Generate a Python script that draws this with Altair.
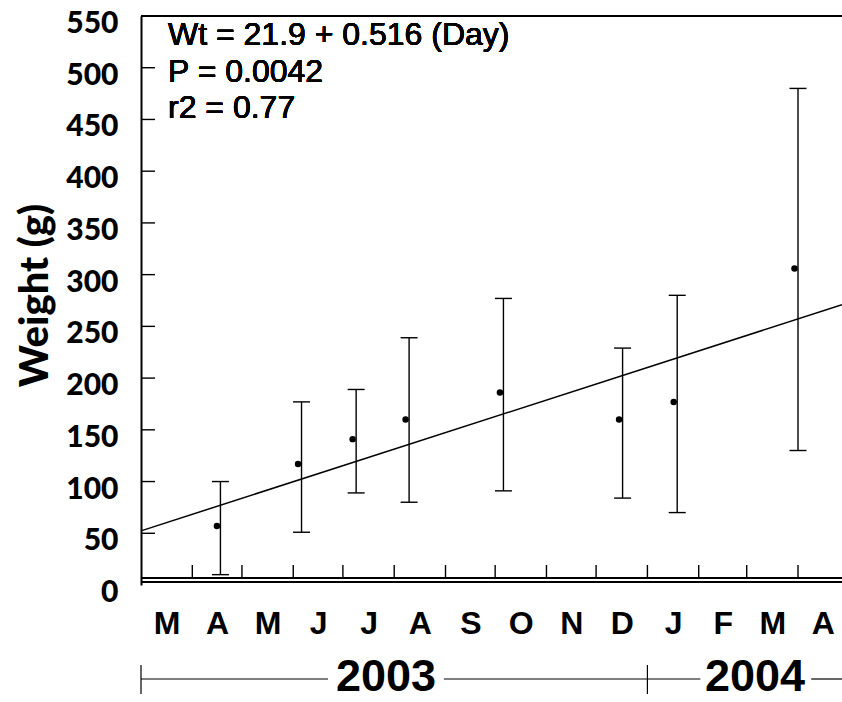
import altair as alt
import pandas as pd

# ---------------- data ----------------
sample_dates = ["2003-04-18", "2003-06-06", "2003-07-09", "2003-08-10",
                "2003-10-06", "2003-12-17", "2004-01-19", "2004-04-01"]
mean_wt = [57, 117, 141, 160, 186, 160, 177, 306]
upper_wt = [100, 177, 189, 239, 277, 229, 280, 480]
lower_wt = [10, 51, 89, 80, 91, 84, 70, 130]

y_tick_values = [0, 50, 100, 150, 200, 250, 300, 350, 400, 450, 500, 550]
inner_y_ticks = [50, 100, 150, 200, 250, 300, 350, 400, 450, 500, 550]

label_months = ["2003-03-01", "2003-04-01", "2003-05-01", "2003-06-01", "2003-07-01",
                "2003-08-01", "2003-09-01", "2003-10-01", "2003-11-01", "2003-12-01",
                "2004-01-01", "2004-02-01", "2004-03-01", "2004-04-01", "2004-05-01"]
month_tick_dates = label_months[1:-1]

year_labels = ["2003", "2004"]
year_label_dates = ["2003-07-27", "2004-03-06"]
bracket_tick_dates = ["2003-03-01", "2004-01-01"]
bracket_seg_start = ["2003-03-01", "2003-08-31", "2004-01-01", "2004-04-09"]
bracket_seg_end = ["2003-06-22", "2004-01-01", "2004-02-02", "2004-04-27T14:00:00Z"]

x_start = "2003-03-01"
x_end = "2004-04-27T14:00:00Z"

fit_intercept = 21.9
fit_slope = 0.516
day_zero = "2003-01-01"

annotation_lines = ["Wt = 21.9 + 0.516 (Day)", "P = 0.0042", "r2 = 0.77"]


def ms(s):
    t = pd.Timestamp(s)
    if t.tzinfo is not None:
        t = t.tz_convert("UTC").tz_localize(None)
    return int(t.value // 10**6)


# ---------------- tables ----------------
pts = pd.DataFrame({"date": [ms(d) for d in sample_dates], "mean": mean_wt,
                    "upper": upper_wt, "lower": lower_wt})

mid_ms = [(ms(a) + ms(b)) // 2 for a, b in zip(label_months[:-1], label_months[1:])]

fit_x = [x_start, x_end]
fit_days = [(ms(d) - ms(day_zero)) / 86400000.0 for d in fit_x]
fit = pd.DataFrame({"date": [ms(d) for d in fit_x],
                    "wt": [fit_intercept + fit_slope * d for d in fit_days]})

mticks = pd.DataFrame({"date": [ms(d) for d in month_tick_dates]})
yticks = pd.DataFrame({"v": inner_y_ticks})
ylab = pd.DataFrame({"date": [ms(d) for d in year_label_dates], "label": year_labels})
btick = pd.DataFrame({"date": [ms(d) for d in bracket_tick_dates]})
bseg = pd.DataFrame({"s": [ms(d) for d in bracket_seg_start],
                     "e": [ms(d) for d in bracket_seg_end]})

W, H = 701, 569

x_scale = alt.Scale(type="utc", domain=[ms(x_start), ms(x_end)], nice=False)
y_scale = alt.Scale(domain=[0, 550], nice=False, zero=False)

x_axis = alt.Axis(values=mid_ms,
                  labelExpr="substring(utcFormat(datum.value, '%B'), 0, 1)",
                  ticks=False, tickSize=0, domain=False, grid=False,
                  labelFont="Liberation Sans", labelFontWeight="bold", labelFontSize=32,
                  labelColor="black", labelBaseline="alphabetic", labelPadding=48,
                  labelAngle=0, labelOverlap=False, labelFlush=False, labelBound=False,
                  title=None)

y_axis = alt.Axis(values=y_tick_values, ticks=False, tickSize=0, grid=False,
                  domain=True, domainColor="black", domainWidth=2,
                  labelFont="Lato", labelFontWeight=900, labelFontSize=30,
                  labelColor="black", labelBaseline="alphabetic", labelOffset=16.5,
                  labelPadding=23, labelOverlap=False, labelFlush=False,
                  title="Weight (g)", titleFont="Lato", titleFontSize=40,
                  titleFontWeight=900, titleColor="black", titleAngle=270,
                  titleAlign="center", titleBaseline="alphabetic",
                  titleX=-94, titleY=279)


def X(field):
    return alt.X(field, type="temporal", scale=x_scale, axis=x_axis)


def Y(field):
    return alt.Y(field, type="quantitative", scale=y_scale, axis=y_axis)


bars = alt.Chart(pts).mark_rule(color="black", strokeWidth=1.4).encode(
    x=X("date"), y=Y("lower"), y2="upper:Q",
)

cap_top = alt.Chart(pts).mark_tick(orient="horizontal", size=17, thickness=1.4,
                                   color="black", opacity=1).encode(
    x=X("date"), y=Y("upper"),
)
cap_bot = alt.Chart(pts).mark_tick(orient="horizontal", size=17, thickness=1.4,
                                   color="black", opacity=1).encode(
    x=X("date"), y=Y("lower"),
)

dots = alt.Chart(pts).mark_circle(size=42, color="black", opacity=1, xOffset=-3.5).encode(
    x=X("date"), y=Y("mean"),
)

fit_line = alt.Chart(fit).mark_line(color="black", strokeWidth=1.5).encode(
    x=X("date"), y=Y("wt"),
)

month_ticks = alt.Chart(mticks).mark_rule(color="black", strokeWidth=1.4).encode(
    x=X("date"), y=alt.value(549), y2=alt.value(562),
)

y_inner = alt.Chart(yticks).mark_rule(color="black", strokeWidth=1.4).encode(
    y=Y("v"), x=alt.value(0), x2=alt.value(14),
)

axis_line1 = alt.Chart(pts).mark_rule(color="black", strokeWidth=1.4).encode(
    x=alt.value(0), x2=alt.value(W), y=alt.value(562))
axis_line2 = alt.Chart(pts).mark_rule(color="black", strokeWidth=1.4).encode(
    x=alt.value(0), x2=alt.value(W), y=alt.value(566))
top_line = alt.Chart(pts).mark_rule(color="black", strokeWidth=1.5).encode(
    x=alt.value(0), x2=alt.value(W), y=alt.value(0))

bracket = alt.Chart(bseg).mark_rule(color="black", strokeWidth=1.2).encode(
    x=X("s"), x2="e:T", y=alt.value(663),
)
bracket_ticks = alt.Chart(btick).mark_rule(color="black", strokeWidth=1.2).encode(
    x=X("date"), y=alt.value(649), y2=alt.value(678),
)
years = alt.Chart(ylab).mark_text(font="Liberation Sans", fontWeight="bold", fontSize=45,
                                  color="black", align="center",
                                  baseline="alphabetic").encode(
    x=X("date"), y=alt.value(675), text="label:N",
)

annot = alt.Chart(pts).mark_text(font="Liberation Sans", fontWeight="normal", fontSize=32,
                                 color="black", align="left", baseline="alphabetic",
                                 lineHeight=36.5).encode(
    x=alt.value(27), y=alt.value(29),
    text=alt.value(annotation_lines),
)

chart = alt.layer(
    bars, cap_top, cap_bot, dots, fit_line, month_ticks, y_inner,
    axis_line1, axis_line2, top_line, bracket, bracket_ticks, years, annot,
).properties(
    width=W, height=H,
    autosize=alt.AutoSizeParams(type="none"),
    padding={"left": 141, "top": 16, "right": 0, "bottom": 117},
    background="white",
).configure_view(stroke=None)

chart.save("out.html", embed_options={"renderer": "svg", "actions": False})
